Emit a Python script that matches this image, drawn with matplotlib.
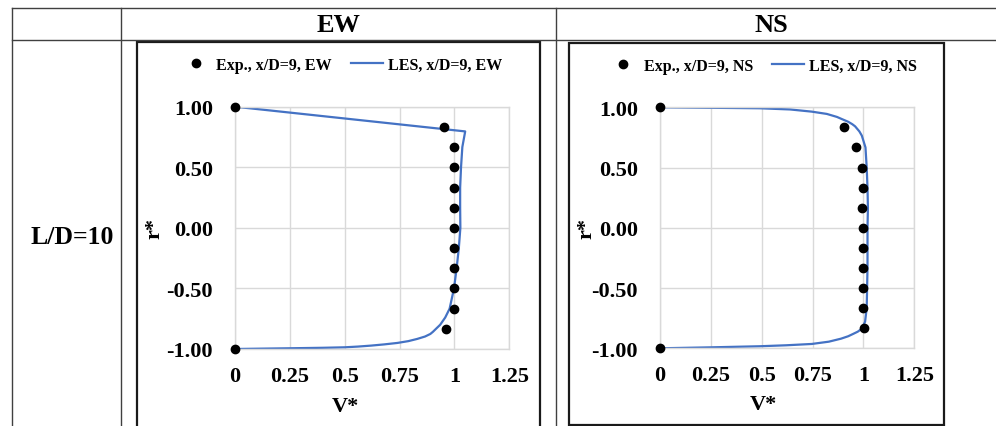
import matplotlib.pyplot as plt
from matplotlib.lines import Line2D
from matplotlib.patches import Rectangle

plt.rcParams['font.family'] = ['Liberation Serif', 'DejaVu Serif']
plt.rcParams['font.weight'] = 'bold'

# experimental points (same radial stations for both planes)
r_exp = [1.0, 0.833, 0.667, 0.5, 0.333, 0.167, 0.0, -0.167, -0.333, -0.5, -0.667, -0.833, -1.0]
v_exp_ew = [0.0, 0.953, 1.0, 1.0, 1.0, 1.0, 1.0, 1.0, 1.0, 1.0, 1.0, 0.962, 0.0]
v_exp_ns = [0.0, 0.902, 0.962, 0.993, 1.0, 0.993, 1.0, 1.0, 1.0, 1.0, 1.0, 1.005, 0.0]

# LES profiles
r_les_ew = [1.0, 0.796, 0.667, 0.5, 0.333, 0.167, 0.0, -0.167, -0.333, -0.5, -0.667,
            -0.74, -0.80, -0.835, -0.858, -0.876, -0.897, -0.917, -0.935, -0.95, -0.962,
            -0.972, -0.98, -0.986, -0.99, -0.994, -0.997, -1.0]
v_les_ew = [0.0, 1.049, 1.036, 1.03, 1.026, 1.026, 1.027, 1.02, 1.01, 0.998, 0.978,
            0.958, 0.935, 0.915, 0.902, 0.89, 0.866, 0.83, 0.79, 0.74, 0.68,
            0.62, 0.56, 0.5, 0.4, 0.25, 0.12, 0.0]

r_les_ns = [1.0, 0.996, 0.992, 0.982, 0.964, 0.945, 0.92, 0.903, 0.88, 0.86, 0.842, 0.8,
            0.765, 0.667, 0.5, 0.33, 0.167, 0.0, -0.167, -0.33, -0.5, -0.667, -0.78,
            -0.84, -0.862, -0.88, -0.90, -0.92, -0.945, -0.964, -0.975, -0.983, -0.992,
            -1.0]
v_les_ns = [0.0, 0.25, 0.49, 0.64, 0.746, 0.82, 0.87, 0.893, 0.925, 0.945, 0.959, 0.98,
            0.992, 1.01, 1.016, 1.02, 1.022, 1.02, 1.02, 1.02, 1.018, 1.016, 1.008,
            0.99, 0.972, 0.95, 0.925, 0.89, 0.83, 0.746, 0.62, 0.49, 0.25,
            0.0]

x_ticks = [0, 0.25, 0.5, 0.75, 1, 1.25]
x_ticklabels = ['0', '0.25', '0.5', '0.75', '1', '1.25']
y_ticks = [-1.0, -0.5, 0.0, 0.5, 1.0]

W, H = 996, 427
fig = plt.figure(figsize=(W / 100, H / 100), dpi=100)


def fx(px):
    return px / W


def fy(py):
    return 1 - py / H


# table grid
line_kw = dict(color='#404040', lw=1.0, transform=fig.transFigure)
fig.add_artist(Line2D([fx(11.5), 1], [fy(8.5), fy(8.5)], **line_kw))
fig.add_artist(Line2D([fx(11.5), 1], [fy(41), fy(41)], **line_kw))
for xp in [11.5, 120.7, 555.7]:
    fig.add_artist(Line2D([fx(xp), fx(xp)], [fy(8.5), 0], **line_kw))

fig.text(fx(338), fy(25), 'EW', ha='center', va='center', fontsize=19, fontweight='bold')
fig.text(fx(771), fy(25), 'NS', ha='center', va='center', fontsize=19, fontweight='bold')
fig.text(fx(72), fy(238), 'L/D=10', ha='center', va='center', fontsize=18.5, fontweight='bold')

# chart frames
fig.add_artist(Rectangle((fx(136.5), fy(440)), fx(539.5) - fx(136.5), fy(42.5) - fy(440),
                         fill=False, ec='#1a1a1a', lw=1.6, transform=fig.transFigure))
fig.add_artist(Rectangle((fx(569), fy(426)), fx(943.7) - fx(569), fy(44) - fy(426),
                         fill=False, ec='#1a1a1a', lw=1.6, transform=fig.transFigure))

panels = [
    dict(box=(235, 509.3, 107.7, 350), v_exp=v_exp_ew, r_les=r_les_ew, v_les=v_les_ew,
         tag='EW', leg=(341, 66), ylab_x=154, xlab=(345, 407)),
    dict(box=(660, 914.3, 108.3, 349.3), v_exp=v_exp_ns, r_les=r_les_ns, v_les=v_les_ns,
         tag='NS', leg=(762, 67), ylab_x=586, xlab=(763, 405)),
]

for p in panels:
    x0, x1, y0, y1 = p['box']
    ax = fig.add_axes([fx(x0), fy(y1), fx(x1) - fx(x0), fy(y0) - fy(y1)])
    ax.plot(p['v_les'], p['r_les'], color='#4472C4', lw=1.6,
            label=f'LES, x/D=9, {p["tag"]}', zorder=2)
    ax.plot(p['v_exp'], r_exp, 'o', color='black', ms=6, ls='none',
            label=f'Exp., x/D=9, {p["tag"]}', zorder=3, clip_on=False)
    ax.set_xlim(0, 1.25)
    ax.set_ylim(-1, 1)
    ax.set_xticks(x_ticks)
    ax.set_xticklabels(x_ticklabels)
    ax.set_yticks(y_ticks)
    ax.set_yticklabels([f'{v:.2f}' for v in y_ticks])
    ax.tick_params(length=0, labelsize=16)
    ax.tick_params(axis='x', pad=12)
    ax.tick_params(axis='y', pad=16)
    for lab in ax.get_xticklabels() + ax.get_yticklabels():
        lab.set_fontweight('bold')
    ax.grid(True, color='#d9d9d9', lw=1.0)
    for s in ax.spines.values():
        s.set_color('#d9d9d9')
        s.set_linewidth(1.0)
    ax.set_axisbelow(True)

    ax.set_ylabel('r*', fontsize=16, fontweight='bold')
    ax.yaxis.label.set_va('center')
    ax.yaxis.set_label_coords((p['ylab_x'] - x0) / (x1 - x0), 0.5)
    ax.set_xlabel('V*', fontsize=16, fontweight='bold')
    ax.xaxis.label.set_va('center')
    ax.xaxis.set_label_coords((p['xlab'][0] - x0) / (x1 - x0), (y1 - p['xlab'][1]) / (y1 - y0))

    handles, labels = ax.get_legend_handles_labels()
    ax.legend(handles[::-1], labels[::-1], loc='center', ncol=2, frameon=False,
              bbox_to_anchor=(fx(p['leg'][0]), fy(p['leg'][1])), bbox_transform=fig.transFigure,
              prop={'size': 11.5, 'weight': 'bold'}, handlelength=2.0, handletextpad=0.3,
              columnspacing=1.2, borderpad=0)

fig.savefig('out.png', dpi=100)
